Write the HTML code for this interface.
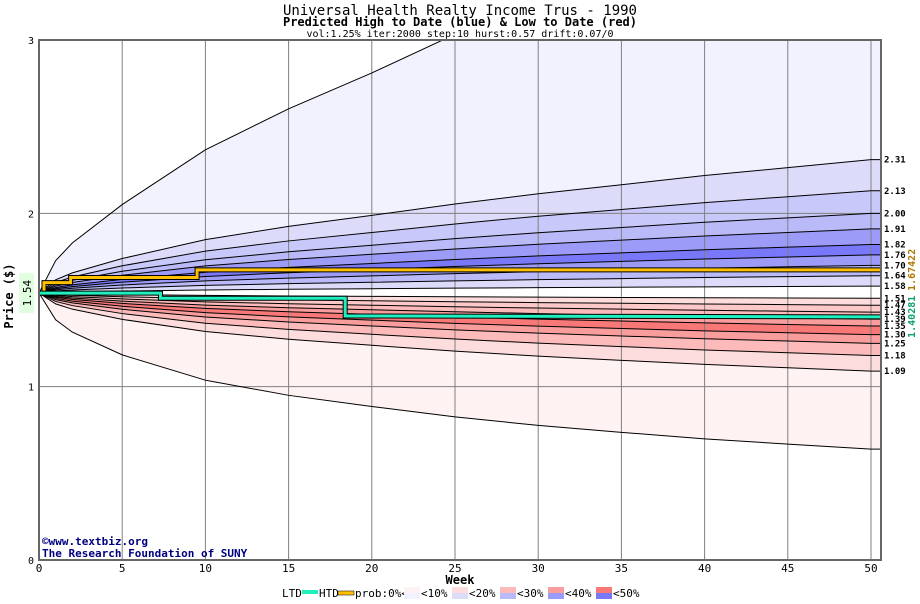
<!DOCTYPE html>
<html><head><meta charset="utf-8">
<style>
body{margin:0;background:#fff;width:920px;height:600px;overflow:hidden;font-family:"DejaVu Sans Mono","Liberation Mono",monospace;}
svg text{font-family:"DejaVu Sans Mono","Liberation Mono",monospace;}
</style></head>
<body>
<svg id="chart" width="920" height="600" viewBox="0 0 920 600" xmlns="http://www.w3.org/2000/svg">
<text x="460" y="15" text-anchor="middle" font-size="14" font-family="Liberation Sans Narrow, Liberation Sans, sans-serif">Universal Health Realty Income Trus - 1990</text>
<text x="460" y="26" text-anchor="middle" font-size="12" font-weight="bold">Predicted High to Date (blue) &amp;  Low to Date (red)</text>
<text x="460" y="37" text-anchor="middle" font-size="10">vol:1.25% iter:2000 step:10 hurst:0.57 drift:0.07/0</text>
<g id="plot"></g>
</svg>
<script>
const weeks = [0,1,2,5,10,15,20,25,30,35,40,45,50,50.6];
const profile = [0,0.12,0.18,0.3,0.45,0.55,0.63,0.71,0.78,0.84,0.9,0.95,1,1];
const startPrice = 1.54;
const finalValues = [4.0,2.31,2.13,2.00,1.91,1.82,1.76,1.70,1.64,1.58,1.51,1.47,1.43,1.39,1.35,1.30,1.25,1.18,1.09,0.64];
const finalLabels = ["2.31","2.13","2.00","1.91","1.82","1.76","1.70","1.64","1.58","1.51","1.47","1.43","1.39","1.35","1.30","1.25","1.18","1.09"];
const bandColors = ["#f2f2ff","#dcdcfa","#c8c8fa","#babaf8","#9c9cf8","#7878f8","#9c9cf8","#babaf8","#dcdcfa","#ffffff","#fcdcdc","#fcc8c8","#fcbaba","#f89c9c","#f87878","#f89c9c","#fcbaba","#fcdcdc","#fff2f2"];
const htdWeeks = [0,0.3,0.3,1.9,1.9,9.5,9.5,50.6];
const htdValues = [1.54,1.54,1.60,1.60,1.63,1.63,1.674,1.674];
const ltdWeeks = [0,7.3,7.3,18.4,18.4,50.6];
const ltdValues = [1.54,1.54,1.51,1.51,1.408,1.403];
const xTicks = [0,5,10,15,20,25,30,35,40,45,50];
const yTicks = [0,1,2,3];
const legendLabels = ["<10%","<20%","<30%","<40%","<50%"];
const legendBlue = ["#f2f2ff","#dcdcfa","#babaf8","#9c9cf8","#7878f8"];
const legendRed = ["#fff2f2","#fcdcdc","#fcbaba","#f89c9c","#f87878"];

const X0=39,X1=881,Y0=40,Y1=560;
const xs = w => X0 + w*(871-39)/50;
const ys = p => Y1 - p*(Y1-Y0)/3;
const NS="http://www.w3.org/2000/svg";
const g=document.getElementById('plot');
function el(t,a,p){const e=document.createElementNS(NS,t);for(const k in a)e.setAttribute(k,a[k]);(p||g).appendChild(e);return e;}
const clip=el('clipPath',{id:'pc'});el('rect',{x:X0,y:Y0,width:X1-X0,height:Y1-Y0},clip);
const lineVal=(f,i)=>startPrice*Math.pow(f/startPrice,profile[i]);
const pts=f=>weeks.map((w,i)=>[xs(w),ys(lineVal(f,i))]);
const cg=el('g',{'clip-path':'url(#pc)'});
for(let b=0;b<bandColors.length;b++){
  const a=pts(finalValues[b]),c=pts(finalValues[b+1]).reverse();
  const p=el('polygon',{points:a.concat(c).map(q=>q.join(',')).join(' '),fill:bandColors[b]},cg);
  
  
}
xTicks.forEach(w=>{if(w>0){const l=el('line',{x1:xs(w),x2:xs(w),y1:Y0,y2:Y1,stroke:'#808080','stroke-width':1},cg);
  }});
yTicks.forEach(v=>{if(v>0&&v<3){const l=el('line',{x1:X0,x2:X1,y1:ys(v),y2:ys(v),stroke:'#808080','stroke-width':1},cg);
  }});
finalValues.forEach(f=>{const l=el('polyline',{points:pts(f).map(q=>q.join(',')).join(' '),fill:'none',stroke:'#000','stroke-width':1},cg);
  });
const htd=el('polyline',{points:htdWeeks.map((w,i)=>xs(w)+','+ys(htdValues[i])).join(' '),fill:'none',stroke:'#000','stroke-width':5},cg);

const htd2=el('polyline',{points:htdWeeks.map((w,i)=>xs(w)+','+ys(htdValues[i])).join(' '),fill:'none',stroke:'#ffc000','stroke-width':3},cg);

const ltd=el('polyline',{points:ltdWeeks.map((w,i)=>xs(w)+','+ys(ltdValues[i])).join(' '),fill:'none',stroke:'#000','stroke-width':5},cg);

const ltd2=el('polyline',{points:ltdWeeks.map((w,i)=>xs(w)+','+ys(ltdValues[i])).join(' '),fill:'none',stroke:'#20f0c0','stroke-width':3},cg);

const bd=el('rect',{x:X0,y:Y0,width:X1-X0,height:Y1-Y0,fill:'none',stroke:'#666','stroke-width':2});

xTicks.forEach(w=>{const t=el('text',{x:xs(w),y:572,'text-anchor':'middle','font-size':11});t.textContent=w;
  });
yTicks.forEach(v=>{const t=el('text',{x:34,y:ys(v)+4,'text-anchor':'end','font-size':10});t.textContent=v;
  });
finalLabels.forEach((s,i)=>{const t=el('text',{x:884,y:ys(finalValues[i+1])+3,'font-size':9,'font-weight':'bold'});t.textContent=s;
  });
function rot(txt,x,y,col,name,size){const t=el('text',{x:x,y:y,transform:`rotate(-90 ${x} ${y})`,'text-anchor':'middle','font-size':size||12,fill:col});t.textContent=txt;
  return t;}
rot('1.40281',915,ys(1.403),'#10a070','ltd-final-value',10).setAttribute('font-weight','bold');
rot('1.67422',915,ys(1.674),'#b07800','htd-final-value',10).setAttribute('font-weight','bold');
const bx=el('rect',{x:19,y:ys(1.54)-20,width:15,height:40,fill:'#e0ffe0'});

rot('1.54',31,ys(1.54),'#000','start-price-label',11);
rot('Price ($)',13,ys(1.54)+3,'#000','y-axis-title',12).setAttribute('font-weight','bold');
const xt=el('text',{x:460,y:584,'text-anchor':'middle','font-size':12,'font-weight':'bold'});xt.textContent='Week';

const c1=el('text',{x:42,y:545,'font-size':11,'font-weight':'bold',fill:'#000080'});c1.textContent='©www.textbiz.org';

const c2=el('text',{x:42,y:557,'font-size':11,'font-weight':'bold',fill:'#000080'});c2.textContent='The Research Foundation of SUNY';

const ly=597;
function lt(s,x){const t=el('text',{x:x,y:ly,'font-size':11});t.textContent=s;return t;}
lt('LTD',282);const s1=el('rect',{x:302,y:590,width:16,height:4,fill:'#20f0c0'});
lt('HTD',319);const s2=el('rect',{x:338,y:591,width:16,height:4,fill:'#ffc000',stroke:'#000','stroke-width':0.5});
lt('prob:0%<',355);
legendLabels.forEach((s,i)=>{const x=404+i*48;
  const a=el('rect',{x:x,y:587,width:16,height:6,fill:legendRed[i]});
  const b=el('rect',{x:x,y:593,width:16,height:6,fill:legendBlue[i]});
  lt(s,x+17);});
</script>
</body></html>
